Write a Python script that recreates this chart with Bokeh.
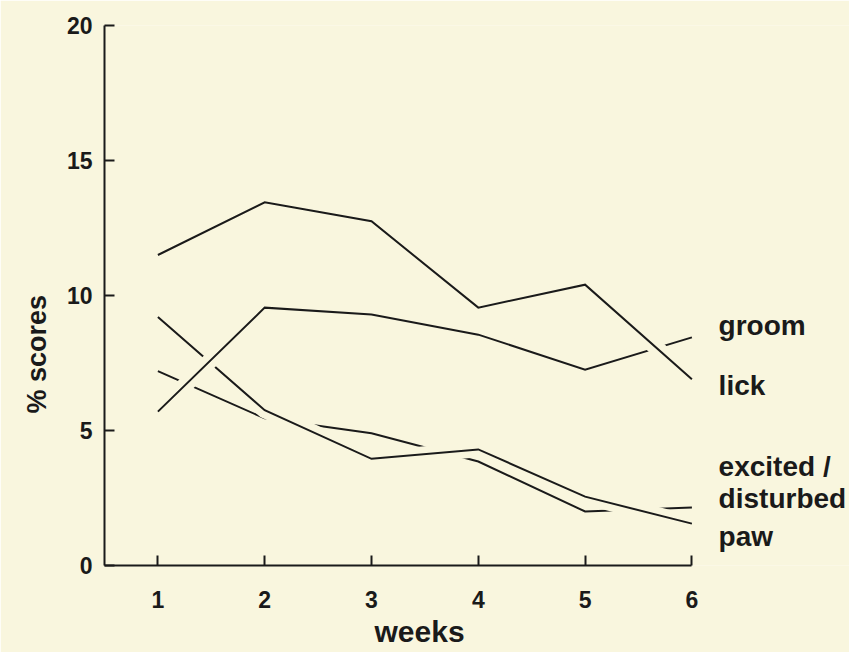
from bokeh.plotting import figure
from bokeh.models import ColumnDataSource, FixedTicker, Range1d, Title
from bokeh.core.properties import value
from bokeh.embed import file_html
from bokeh.resources import INLINE

# ---- data ----
weeks = [1, 2, 3, 4, 5, 6]
lick = [11.5, 13.45, 12.75, 9.55, 10.4, 6.9]
groom = [5.7, 9.55, 9.3, 8.55, 7.25, 8.45]
paw = [9.2, 5.75, 3.95, 4.3, 2.55, 1.55]
excited_disturbed = [7.2, 5.45, 4.9, 3.85, 2.0, 2.15]

x_ticks = [1, 2, 3, 4, 5, 6]
y_ticks = [0, 5, 10, 15, 20]

series_labels = ["groom", "lick", "excited /", "disturbed", "paw"]
series_label_y = [8.89, 6.67, 3.67, 2.48, 1.07]
series_label_x = 6.25

x_title = "weeks"
y_title = "% scores"

# ---- style ----
BG = "#f9f6de"
INK = "#1a1a1a"
FONT = "Liberation Sans"
W, H = 849, 652
LEFT, TOP, BOTTOM = 104, 25, 87
PX_PER_WEEK = 106.8

p = figure(width=W, height=H, output_backend="svg", toolbar_location=None,
           x_range=Range1d(0.5, 0.5 + (W - LEFT) / PX_PER_WEEK),
           y_range=Range1d(0, 20),
           min_border_left=LEFT, min_border_right=0,
           min_border_top=TOP, min_border_bottom=BOTTOM)
p.background_fill_color = BG
p.border_fill_color = BG
p.outline_line_color = None
p.grid.visible = False

for ax in (p.xaxis, p.yaxis):
    ax.axis_line_width = 2
    ax.axis_line_color = INK
    ax.major_tick_line_width = 2
    ax.major_tick_line_color = INK
    ax.major_tick_in = 10
    ax.major_tick_out = 0
    ax.minor_tick_line_color = None
    ax.major_label_text_font = FONT
    ax.major_label_text_font_style = "bold"
    ax.major_label_text_font_size = "23px"
    ax.major_label_text_color = INK

p.xaxis.ticker = FixedTicker(ticks=x_ticks)
p.xaxis.bounds = (0.5, 6)
p.yaxis.ticker = FixedTicker(ticks=y_ticks)
p.xaxis.major_label_standoff = 25
p.yaxis.major_label_standoff = 12

# lines, drawn bottom-to-top; each is preceded by a background-coloured
# halo so that it breaks the lines underneath at crossings
order = [excited_disturbed, paw, groom, lick]
for i, ys in enumerate(order):
    if i > 0:
        p.line(weeks, ys, line_color=BG, line_width=16, line_cap="butt",
               line_join="round")
    p.line(weeks, ys, line_color=INK, line_width=2, line_join="miter")

# series labels at the right
src = ColumnDataSource(dict(x=[series_label_x] * len(series_labels),
                            y=series_label_y, text=series_labels))
p.text(x="x", y="y", text="text", source=src,
       text_font=value(FONT), text_font_style="bold",
       text_font_size="28px", text_color=INK,
       text_align="left", text_baseline="alphabetic")

# axis titles
p.add_layout(Title(text=x_title, align="left", offset=270, standoff=4,
                   text_font=FONT, text_font_style="bold",
                   text_font_size="30px", text_color=INK), "below")
p.add_layout(Title(text=y_title, align="left", offset=152, standoff=23,
                   text_font=FONT, text_font_style="bold",
                   text_font_size="27px", text_color=INK), "left")

open("out.html", "w").write(file_html(p, INLINE))
